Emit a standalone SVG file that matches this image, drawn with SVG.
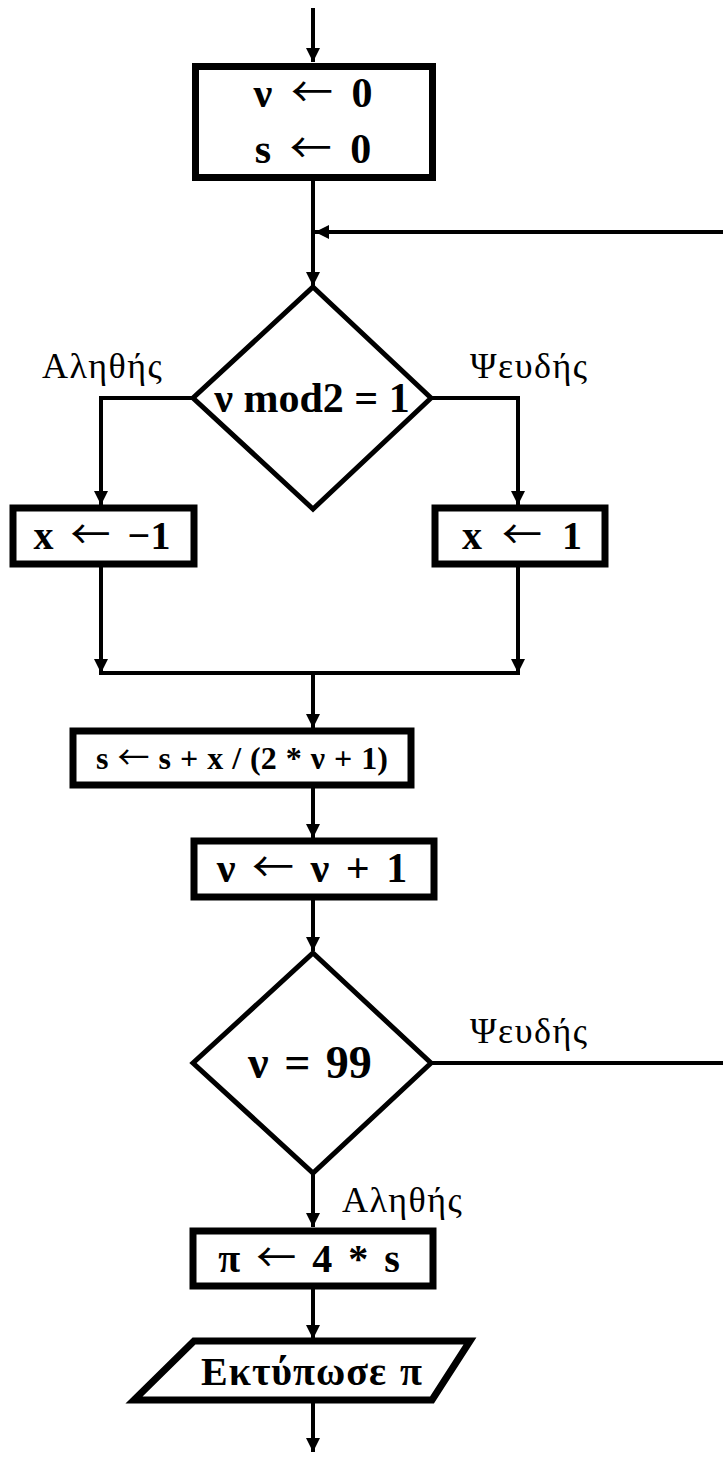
<svg xmlns="http://www.w3.org/2000/svg" width="723" height="1457" viewBox="0 0 723 1457">
<style>
.box{fill:#fff;stroke:#000;stroke-width:7}
.dia{fill:#fff;stroke:#000;stroke-width:5}
.ln{fill:none;stroke:#000;stroke-width:4}
.t{font-family:"Liberation Serif","DejaVu Serif",serif;font-weight:bold;fill:#000;text-anchor:middle}
.ar{font-family:"Noto Sans CJK SC","DejaVu Sans",sans-serif;font-weight:normal}
.lbl{font-family:"Liberation Serif","DejaVu Serif",serif;fill:#000;font-size:36px;letter-spacing:1.5px}
</style>
<defs>
<marker id="ah" markerUnits="userSpaceOnUse" markerWidth="16" markerHeight="16" refX="14" refY="7" orient="auto">
<path d="M0,0 L14,7 L0,14 z" fill="#000"/>
</marker>
</defs>
<rect width="723" height="1457" fill="#fff"/>
<g id="connectors">
<line class="ln" x1="313" y1="8" x2="313" y2="62" marker-end="url(#ah)"/>
<line class="ln" x1="313" y1="181" x2="313" y2="286" marker-end="url(#ah)"/>
<line class="ln" x1="723" y1="232" x2="315" y2="232" marker-end="url(#ah)"/>
<polyline class="ln" points="193,398 101,398 101,505" marker-end="url(#ah)"/>
<polyline class="ln" points="431,398 518,398 518,505" marker-end="url(#ah)"/>
<line class="ln" x1="101" y1="567" x2="101" y2="673" marker-end="url(#ah)"/>
<line class="ln" x1="518" y1="567" x2="518" y2="673" marker-end="url(#ah)"/>
<line class="ln" x1="99" y1="673" x2="520" y2="673"/>
<line class="ln" x1="313" y1="673" x2="313" y2="728" marker-end="url(#ah)"/>
<line class="ln" x1="313" y1="788" x2="313" y2="838" marker-end="url(#ah)"/>
<line class="ln" x1="313" y1="900" x2="313" y2="951" marker-end="url(#ah)"/>
<line class="ln" x1="431" y1="1063" x2="723" y2="1063"/>
<line class="ln" x1="313" y1="1173" x2="313" y2="1227" marker-end="url(#ah)"/>
<line class="ln" x1="313" y1="1289" x2="313" y2="1339" marker-end="url(#ah)"/>
<line class="ln" x1="313" y1="1401" x2="313" y2="1452" marker-end="url(#ah)"/>
</g>
<g id="n_init">
<rect class="box" x="195.5" y="66.5" width="237" height="111"/>
<text class="t" x="313" y="107" font-size="42" style="word-spacing:8px">ν <tspan class="ar">←</tspan> 0</text>
<text class="t" x="313" y="163" font-size="42" style="word-spacing:8px">s <tspan class="ar">←</tspan> 0</text>
</g>
<g id="n_cond1">
<polygon class="dia" points="313,287 431,398 313,509 193,398"/>
<text class="t" x="312" y="412" font-size="42">ν mod2 = 1</text>
</g>
<g id="lbl1">
<text class="lbl" x="42" y="378">Αληθής</text>
<text class="lbl" x="470" y="378">Ψευδής</text>
</g>
<g id="n_xneg">
<rect class="box" x="13" y="508" width="181" height="56"/>
<text class="t" x="102" y="549" font-size="40" style="word-spacing:7px">x <tspan class="ar">←</tspan> −1</text>
</g>
<g id="n_xpos">
<rect class="box" x="435" y="508" width="170" height="56"/>
<text class="t" x="522" y="549" font-size="40" style="word-spacing:10px">x <tspan class="ar">←</tspan> 1</text>
</g>
<g id="n_sum">
<rect class="box" x="73" y="731" width="338" height="54"/>
<text class="t" x="242" y="769" font-size="32" style="word-spacing:1px">s <tspan class="ar">←</tspan> s + x / (2 * ν + 1)</text>
</g>
<g id="n_inc">
<rect class="box" x="194" y="841" width="240" height="56"/>
<text class="t" x="312" y="882" font-size="42" style="word-spacing:6px">ν <tspan class="ar">←</tspan> ν + 1</text>
</g>
<g id="n_cond2">
<polygon class="dia" points="313,953 431,1063 313,1173 193,1063"/>
<text class="t" x="310" y="1078" font-size="46" style="word-spacing:4px">ν = 99</text>
</g>
<g id="lbl2">
<text class="lbl" x="470" y="1043">Ψευδής</text>
<text class="lbl" x="342" y="1212">Αληθής</text>
</g>
<g id="n_pi">
<rect class="box" x="193" y="1231" width="240" height="55"/>
<text class="t" x="309" y="1272" font-size="40" style="word-spacing:6px">π <tspan class="ar">←</tspan> 4 * s</text>
</g>
<g id="n_print">
<polygon class="box" points="194,1341 470,1341 432,1400 134,1400"/>
<text class="t" x="312" y="1385" font-size="40" style="letter-spacing:1px;word-spacing:2px">Εκτύπωσε π</text>
</g>
</svg>
